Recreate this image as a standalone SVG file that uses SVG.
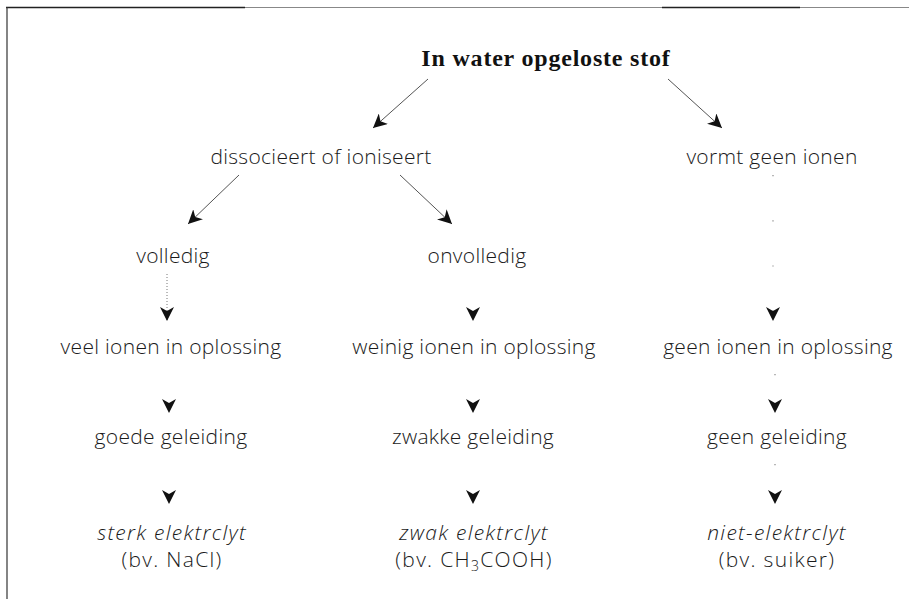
<svg xmlns="http://www.w3.org/2000/svg" width="909" height="599" viewBox="0 0 909 599">
<style>
  .t { font-family: "Open Sans", "Noto Sans", "DejaVu Sans", sans-serif; font-size: 21px; font-weight: 300; letter-spacing: 0.3px; fill: #1a1a1a; text-anchor: middle; }
  .w { letter-spacing: 1.3px; }
  .i { font-style: italic; }
  .title { font-family: "Liberation Serif", "DejaVu Serif", serif; font-size: 24px; font-weight: bold; letter-spacing: 0.8px; fill: #111; text-anchor: middle; }
  .diag { stroke: #555; stroke-width: 1; fill: none; }
  .dot { stroke: #777; stroke-width: 1; stroke-dasharray: 1 2; fill: none; }
  .sparse { stroke: #888; stroke-width: 1.2; stroke-dasharray: 1.2 44; fill: none; }
  .none { stroke: none; fill: none; }
</style>
<defs>
  <marker id="ah" viewBox="0 0 14 14" refX="14" refY="7" markerWidth="14" markerHeight="14" markerUnits="userSpaceOnUse" orient="auto">
    <path d="M0,0 L14,7 L0,14 L4,7 Z" fill="#111"/>
  </marker>
</defs>
<rect width="909" height="599" fill="#fff"/>
<g id="frame">
  <line x1="6" y1="7.5" x2="909" y2="7.5" stroke="#888" stroke-width="1.2"/>
  <line x1="6" y1="7.5" x2="245" y2="7.5" stroke="#222" stroke-width="1.5"/>
  <line x1="662" y1="7.5" x2="800" y2="7.5" stroke="#222" stroke-width="1.5"/>
  <line x1="7" y1="7" x2="7" y2="599" stroke="#333" stroke-width="1.2"/>
</g>
<g id="connectors">
  <line class="diag" x1="428" y1="79" x2="373" y2="128" marker-end="url(#ah)"/>
  <line class="diag" x1="668" y1="79" x2="722" y2="128" marker-end="url(#ah)"/>
  <line class="diag" x1="239" y1="175" x2="188" y2="224" marker-end="url(#ah)"/>
  <line class="diag" x1="400" y1="175" x2="452" y2="224" marker-end="url(#ah)"/>
  <line class="dot" x1="167" y1="274" x2="167" y2="321" marker-end="url(#ah)"/>
  <line class="none" x1="473" y1="285" x2="473" y2="321" marker-end="url(#ah)"/>
  <line class="sparse" x1="773" y1="175" x2="773" y2="321" marker-end="url(#ah)"/>
  <line class="none" x1="169" y1="376" x2="169" y2="413" marker-end="url(#ah)"/>
  <line class="none" x1="473" y1="376" x2="473" y2="413" marker-end="url(#ah)"/>
  <line class="sparse" x1="775" y1="374" x2="775" y2="413" marker-end="url(#ah)"/>
  <line class="none" x1="169" y1="466" x2="169" y2="504" marker-end="url(#ah)"/>
  <line class="none" x1="473" y1="466" x2="473" y2="504" marker-end="url(#ah)"/>
  <line class="sparse" x1="775" y1="464" x2="775" y2="504" marker-end="url(#ah)"/>
</g>
<g id="n-stof"><text class="title" x="546" y="66">In water opgeloste stof</text></g>
<g id="n-dissocieert"><text class="t" x="321" y="164">dissocieert of ioniseert</text></g>
<g id="n-vormt"><text class="t" x="772" y="164">vormt geen ionen</text></g>
<g id="n-volledig"><text class="t" x="173" y="263">volledig</text></g>
<g id="n-onvolledig"><text class="t" x="477" y="263">onvolledig</text></g>
<g id="n-veel"><text class="t" x="171" y="354">veel ionen in oplossing</text></g>
<g id="n-weinig"><text class="t" x="474" y="354">weinig ionen in oplossing</text></g>
<g id="n-geen-ionen"><text class="t" x="778" y="354">geen ionen in oplossing</text></g>
<g id="n-goede"><text class="t" x="171" y="444">goede geleiding</text></g>
<g id="n-zwakke"><text class="t" x="473" y="444">zwakke geleiding</text></g>
<g id="n-geen-geleiding"><text class="t" x="777" y="444">geen geleiding</text></g>
<g id="n-sterk">
  <text class="t w i" x="172" y="540">sterk elektrclyt</text>
  <text class="t w" x="172" y="567">(bv. NaCl)</text>
</g>
<g id="n-zwak">
  <text class="t w i" x="474" y="540">zwak elektrclyt</text>
  <text class="t w" x="474" y="567">(bv. CH<tspan font-size="14" dy="4">3</tspan><tspan dy="-4">COOH)</tspan></text>
</g>
<g id="n-niet">
  <text class="t w i" x="777" y="540">niet-elektrclyt</text>
  <text class="t w" x="777" y="567">(bv. suiker)</text>
</g>
</svg>
